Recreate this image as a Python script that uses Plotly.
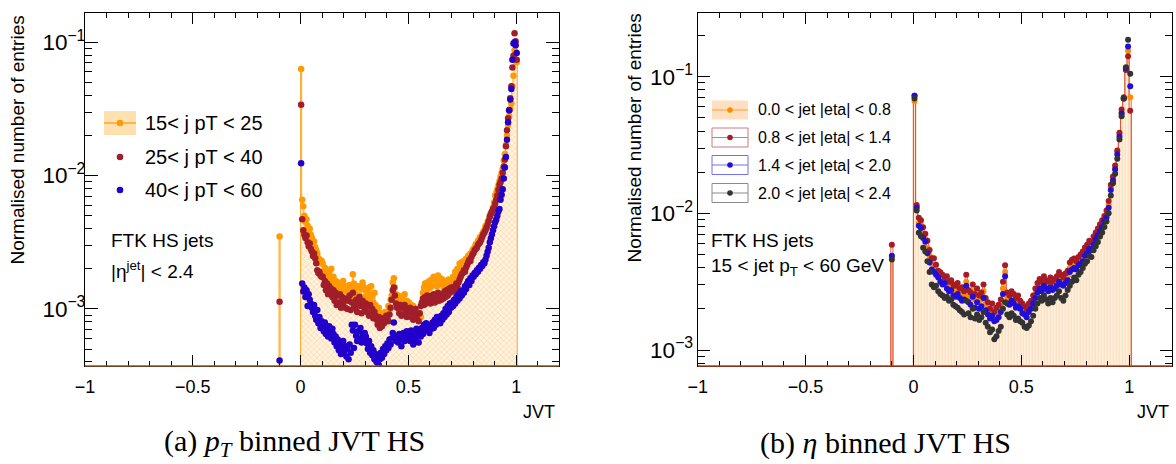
import numpy as np
import plotly.graph_objects as go

W, H = 1176, 464

# ------------------------------------------------------------------ data
# (a) pT binned: JVT bins of width 0.005 from 0 to 1.005, plus the JVT=-0.1 bin
pt_bin_width = 0.005
pt_first_edge = 0.0
pt_neg_center = -0.0975
pt_labels = ["15&lt; j pT &lt; 25", "25&lt; j pT &lt; 40", "40&lt; j pT &lt; 60"]
pt15_25_neg = 3.5e-3
pt25_40_neg = 1.13e-3
pt40_60_neg = 4.1e-4

pt15_25 = [
    6.3e-2, 6.6e-3, 5.9e-3, 5.0e-3, 4.5e-3, 4.7e-3, 4.2e-3, 3.9e-3, 4.0e-3, 3.6e-3,
    3.4e-3, 3.2e-3, 3.2e-3, 2.9e-3, 2.75e-3, 2.6e-3, 2.4e-3, 2.35e-3, 2.2e-3, 2.3e-3,
    2.19e-3, 1.82e-3, 2.04e-3, 1.7e-3, 1.95e-3, 1.58e-3, 1.86e-3, 1.66e-3, 2.0e-3, 1.51e-3,
    1.74e-3, 1.41e-3, 1.62e-3, 1.32e-3, 1.58e-3, 1.45e-3, 1.23e-3, 1.51e-3, 1.35e-3, 1.62e-3,
    1.38e-3, 1.2e-3, 1.48e-3, 1.15e-3, 1.35e-3, 1.51e-3, 1.17e-3, 1.41e-3, 1.82e-3, 1.55e-3,
    1.29e-3, 1.45e-3, 1.17e-3, 1.48e-3, 1.26e-3, 1.12e-3, 1.41e-3, 1.58e-3, 1.45e-3, 1.23e-3,
    1.38e-3, 1.15e-3, 1.29e-3, 1.45e-3, 1.2e-3, 1.48e-3, 1.26e-3, 1.12e-3, 1.32e-3, 1.07e-3,
    1.0e-3, 8.9e-4, 1.02e-3, 8.3e-4, 9.3e-4, 7.9e-4, 9.1e-4, 8.1e-4, 9.5e-4, 8.5e-4,
    9.1e-4, 1.05e-3, 9.8e-4, 1.17e-3, 1.26e-3, 1.58e-3, 1.7e-3, 1.45e-3, 1.29e-3, 1.15e-3,
    1.26e-3, 1.07e-3, 1.23e-3, 1.02e-3, 1.17e-3, 1.1e-3, 1.29e-3, 1.0e-3, 1.15e-3, 1.05e-3,
    1.12e-3, 9.8e-4, 1.07e-3, 9.3e-4, 1.05e-3, 8.9e-4, 1.0e-3, 8.7e-4, 9.5e-4, 8.5e-4,
    9.1e-4, 8.7e-4, 1.1e-3, 1.32e-3, 1.45e-3, 1.55e-3, 1.38e-3, 1.58e-3, 1.41e-3, 1.62e-3,
    1.45e-3, 1.66e-3, 1.51e-3, 1.74e-3, 1.55e-3, 1.7e-3, 1.48e-3, 1.78e-3, 1.58e-3, 1.7e-3,
    1.55e-3, 1.66e-3, 1.48e-3, 1.62e-3, 1.41e-3, 1.58e-3, 1.45e-3, 1.66e-3, 1.51e-3, 1.62e-3,
    1.58e-3, 1.74e-3, 1.66e-3, 1.9e-3, 1.78e-3, 2.0e-3, 1.95e-3, 2.19e-3, 2.09e-3, 2.24e-3,
    2.2e-3, 2.29e-3, 2.24e-3, 2.38e-3, 2.34e-3, 2.51e-3, 2.45e-3, 2.6e-3, 2.57e-3, 2.75e-3,
    2.82e-3, 2.9e-3, 3.05e-3, 3.0e-3, 3.24e-3, 3.3e-3, 3.47e-3, 3.4e-3, 3.63e-3, 3.8e-3,
    3.9e-3, 4.17e-3, 4.1e-3, 4.47e-3, 4.6e-3, 5.0e-3, 5.25e-3, 5.37e-3, 5.8e-3, 6.3e-3,
    7.1e-3, 7.4e-3, 7.9e-3, 8.5e-3, 9.1e-3, 9.8e-3, 1.05e-2, 1.12e-2, 1.29e-2, 1.45e-2,
    1.7e-2, 2.0e-2, 2.4e-2, 2.8e-2, 3.16e-2, 3.47e-2, 4.68e-2, 5.62e-2, 8.7e-2, 8.5e-2,
    7.1e-2,
]
pt25_40 = [
    3.4e-2, 4.7e-3, 3.9e-3, 3.6e-3, 3.4e-3, 3.55e-3, 3.16e-3, 2.95e-3, 3.1e-3, 2.82e-3,
    2.7e-3, 2.5e-3, 2.6e-3, 2.4e-3, 2.2e-3, 1.95e-3, 1.86e-3, 1.9e-3, 1.78e-3, 1.74e-3,
    1.74e-3, 1.51e-3, 1.62e-3, 1.38e-3, 1.55e-3, 1.29e-3, 1.48e-3, 1.35e-3, 1.41e-3, 1.23e-3,
    1.38e-3, 1.15e-3, 1.32e-3, 1.07e-3, 1.26e-3, 1.12e-3, 1.29e-3, 1.02e-3, 1.23e-3, 1.1e-3,
    1.17e-3, 1.02e-3, 1.2e-3, 1.0e-3, 1.15e-3, 1.26e-3, 9.8e-4, 1.12e-3, 1.32e-3, 1.07e-3,
    1.02e-3, 1.17e-3, 9.5e-4, 1.12e-3, 1.23e-3, 1.05e-3, 9.3e-4, 1.15e-3, 1.07e-3, 9.8e-4,
    1.1e-3, 9.5e-4, 1.05e-3, 8.9e-4, 1.07e-3, 9.1e-4, 1.0e-3, 8.5e-4, 9.5e-4, 8.9e-4,
    8.3e-4, 7.6e-4, 8.7e-4, 7.2e-4, 8.1e-4, 7.4e-4, 8.5e-4, 7.8e-4, 8.3e-4, 8.9e-4,
    8.7e-4, 8.1e-4, 9.1e-4, 1.02e-3, 1.17e-3, 1.38e-3, 1.45e-3, 1.26e-3, 1.1e-3, 1.02e-3,
    1.05e-3, 9.3e-4, 1.07e-3, 8.9e-4, 1.02e-3, 9.1e-4, 1.07e-3, 9.5e-4, 8.7e-4, 1.0e-3,
    9.3e-4, 1.02e-3, 8.7e-4, 9.8e-4, 8.3e-4, 9.3e-4, 1.0e-3, 8.5e-4, 9.1e-4, 8.1e-4,
    9.3e-4, 1.05e-3, 1.12e-3, 1.2e-3, 1.07e-3, 1.23e-3, 1.1e-3, 1.26e-3, 1.12e-3, 1.2e-3,
    1.1e-3, 1.26e-3, 1.15e-3, 1.29e-3, 1.12e-3, 1.23e-3, 1.17e-3, 1.32e-3, 1.15e-3, 1.26e-3,
    1.17e-3, 1.29e-3, 1.2e-3, 1.35e-3, 1.23e-3, 1.38e-3, 1.26e-3, 1.41e-3, 1.32e-3, 1.45e-3,
    1.38e-3, 1.45e-3, 1.35e-3, 1.48e-3, 1.55e-3, 1.45e-3, 1.58e-3, 1.66e-3, 1.74e-3, 1.82e-3,
    1.86e-3, 1.95e-3, 1.9e-3, 2.04e-3, 2.14e-3, 2.24e-3, 2.34e-3, 2.29e-3, 2.45e-3, 2.57e-3,
    2.63e-3, 2.75e-3, 2.82e-3, 2.88e-3, 3.02e-3, 3.09e-3, 3.16e-3, 3.31e-3, 3.47e-3, 3.63e-3,
    3.72e-3, 3.89e-3, 4.07e-3, 4.27e-3, 4.57e-3, 4.9e-3, 5.13e-3, 5.37e-3, 5.62e-3, 5.75e-3,
    6.17e-3, 6.6e-3, 7.1e-3, 7.8e-3, 8.5e-3, 8.9e-3, 9.5e-3, 1.05e-2, 1.17e-2, 1.32e-2,
    1.66e-2, 2.19e-2, 2.69e-2, 3.09e-2, 3.8e-2, 4.68e-2, 6.46e-2, 7.94e-2, 0.117, 0.102,
    7.4e-2,
]
pt40_60 = [
    1.24e-2, 1.55e-3, 1.35e-3, 1.45e-3, 1.23e-3, 1.38e-3, 1.05e-3, 1.29e-3, 1.17e-3, 1.1e-3,
    1.02e-3, 9.5e-4, 1.07e-3, 8.9e-4, 8.3e-4, 9.8e-4, 7.8e-4, 8.7e-4, 7.2e-4, 8.1e-4,
    7.6e-4, 6.8e-4, 7.9e-4, 6.5e-4, 7.2e-4, 6.2e-4, 7.4e-4, 6.6e-4, 6.0e-4, 7.1e-4,
    6.5e-4, 5.6e-4, 6.2e-4, 5.25e-4, 5.9e-4, 4.9e-4, 5.5e-4, 4.6e-4, 5.1e-4, 5.75e-4,
    4.8e-4, 5.25e-4, 4.4e-4, 5.0e-4, 4.2e-4, 5.4e-4, 4.7e-4, 7.6e-4, 6.9e-4, 5.1e-4,
    7.6e-4, 6.3e-4, 5.75e-4, 6.8e-4, 6.0e-4, 7.2e-4, 5.6e-4, 6.5e-4, 5.9e-4, 6.6e-4,
    6.2e-4, 5.5e-4, 5.0e-4, 5.75e-4, 4.7e-4, 5.25e-4, 4.5e-4, 4.9e-4, 4.2e-4, 4.6e-4,
    4.0e-4, 4.4e-4, 3.8e-4, 4.2e-4, 4.7e-4, 4.3e-4, 5.0e-4, 4.6e-4, 5.25e-4, 4.9e-4,
    5.5e-4, 5.1e-4, 5.9e-4, 5.4e-4, 6.0e-4, 6.6e-4, 7.9e-4, 6.3e-4, 5.75e-4, 6.2e-4,
    5.6e-4, 6.5e-4, 5.9e-4, 5.25e-4, 6.2e-4, 6.6e-4, 5.75e-4, 6.3e-4, 6.8e-4, 6.0e-4,
    6.5e-4, 5.75e-4, 6.9e-4, 6.2e-4, 5.4e-4, 6.6e-4, 5.9e-4, 7.1e-4, 6.3e-4, 5.6e-4,
    6.8e-4, 6.2e-4, 7.2e-4, 6.5e-4, 7.6e-4, 6.9e-4, 7.8e-4, 7.1e-4, 7.4e-4, 6.6e-4,
    7.6e-4, 7.1e-4, 7.9e-4, 7.2e-4, 8.3e-4, 7.6e-4, 8.7e-4, 7.9e-4, 8.5e-4, 7.8e-4,
    8.9e-4, 8.3e-4, 9.3e-4, 8.7e-4, 1.0e-3, 9.1e-4, 1.05e-3, 9.5e-4, 1.1e-3, 1.02e-3,
    1.12e-3, 1.05e-3, 1.17e-3, 1.1e-3, 1.23e-3, 1.15e-3, 1.29e-3, 1.2e-3, 1.35e-3, 1.26e-3,
    1.38e-3, 1.32e-3, 1.48e-3, 1.41e-3, 1.55e-3, 1.62e-3, 1.51e-3, 1.7e-3, 1.62e-3, 1.78e-3,
    1.74e-3, 1.86e-3, 1.82e-3, 1.95e-3, 1.9e-3, 2.04e-3, 2.0e-3, 2.14e-3, 2.1e-3, 2.24e-3,
    2.2e-3, 2.34e-3, 2.51e-3, 2.69e-3, 2.88e-3, 3.16e-3, 3.39e-3, 3.63e-3, 3.89e-3, 4.17e-3,
    4.47e-3, 4.68e-3, 5.0e-3, 5.37e-3, 5.62e-3, 6.6e-3, 7.2e-3, 7.9e-3, 9.5e-3, 1.15e-2,
    1.38e-2, 1.86e-2, 2.51e-2, 3.09e-2, 3.72e-2, 4.47e-2, 7.4e-2, 9.8e-2, 0.10, 0.095,
    8.3e-2,
]

# (b) eta binned: JVT bins of width 0.01 from 0 to 1.01, plus the JVT=-0.1 bin
eta_bin_width = 0.01
eta_first_edge = 0.0
eta_neg_center = -0.1
eta_labels = ["0.0 &lt; jet |eta| &lt; 0.8", "0.8 &lt; jet |eta| &lt; 1.4",
              "1.4 &lt; jet |eta| &lt; 2.0", "2.0 &lt; jet |eta| &lt; 2.4"]
eta00_08_neg = 4.8e-3
eta08_14_neg = 5.9e-3
eta14_20_neg = 4.9e-3
eta20_24_neg = 4.6e-3

eta00_08 = [
    0.066, 0.0112, 8.5e-3, 8.3e-3, 7.1e-3, 6.5e-3, 5.6e-3, 4.9e-3, 4.27e-3, 4.17e-3,
    3.8e-3, 3.55e-3, 3.39e-3, 3.24e-3, 3.16e-3, 3.09e-3, 2.95e-3, 2.88e-3, 2.75e-3, 2.63e-3,
    2.75e-3, 2.57e-3, 2.63e-3, 2.45e-3, 3.16e-3, 2.51e-3, 2.4e-3, 2.69e-3, 2.34e-3, 2.51e-3,
    2.29e-3, 2.34e-3, 2.69e-3, 2.19e-3, 2.04e-3, 1.82e-3, 1.95e-3, 1.74e-3, 1.82e-3, 1.9e-3,
    2.09e-3, 2.82e-3, 3.72e-3, 2.4e-3, 2.29e-3, 2.45e-3, 2.34e-3, 2.19e-3, 2.24e-3, 2.09e-3,
    2.0e-3, 1.9e-3, 1.86e-3, 2.0e-3, 2.09e-3, 2.29e-3, 2.57e-3, 2.82e-3, 3.02e-3, 2.88e-3,
    3.16e-3, 2.95e-3, 2.88e-3, 3.09e-3, 2.88e-3, 3.02e-3, 3.16e-3, 3.39e-3, 3.24e-3, 3.09e-3,
    3.31e-3, 3.47e-3, 3.98e-3, 4.17e-3, 4.27e-3, 4.07e-3, 4.37e-3, 4.57e-3, 4.79e-3, 5.13e-3,
    5.37e-3, 5.75e-3, 5.75e-3, 6.17e-3, 6.76e-3, 7.24e-3, 7.76e-3, 8.32e-3, 8.91e-3, 9.77e-3,
    1.15e-2, 1.55e-2, 1.82e-2, 2.14e-2, 2.82e-2, 3.8e-2, 5.5e-2, 6.92e-2, 0.112, 0.155,
    7.08e-2,
]
eta08_14 = [
    0.0724, 0.0115, 9.3e-3, 8.9e-3, 7.9e-3, 7.1e-3, 6.3e-3, 5.4e-3, 4.7e-3, 4.7e-3,
    4.2e-3, 3.8e-3, 3.7e-3, 3.55e-3, 3.4e-3, 3.47e-3, 3.16e-3, 3.24e-3, 3.02e-3, 2.95e-3,
    3.09e-3, 2.82e-3, 2.88e-3, 2.69e-3, 3.55e-3, 2.75e-3, 2.63e-3, 3.02e-3, 2.57e-3, 2.82e-3,
    2.51e-3, 2.63e-3, 3.02e-3, 2.4e-3, 2.24e-3, 2.0e-3, 2.19e-3, 1.9e-3, 2.04e-3, 2.14e-3,
    2.34e-3, 3.16e-3, 4.17e-3, 2.63e-3, 2.51e-3, 2.69e-3, 2.57e-3, 2.4e-3, 2.51e-3, 2.29e-3,
    2.19e-3, 2.09e-3, 2.0e-3, 2.19e-3, 2.29e-3, 2.51e-3, 2.82e-3, 3.09e-3, 3.31e-3, 3.16e-3,
    3.47e-3, 3.24e-3, 3.16e-3, 3.39e-3, 3.16e-3, 3.31e-3, 3.47e-3, 3.72e-3, 3.55e-3, 3.39e-3,
    3.63e-3, 3.8e-3, 4.37e-3, 4.57e-3, 4.68e-3, 4.47e-3, 4.79e-3, 5.0e-3, 5.25e-3, 5.62e-3,
    5.89e-3, 6.31e-3, 6.17e-3, 6.76e-3, 7.24e-3, 7.76e-3, 8.32e-3, 8.91e-3, 9.55e-3, 1.05e-2,
    1.23e-2, 1.62e-2, 1.86e-2, 2.24e-2, 2.88e-2, 3.89e-2, 5.75e-2, 7.08e-2, 0.112, 0.141,
    5.62e-2,
]
eta14_20 = [
    0.0724, 0.011, 8.1e-3, 7.8e-3, 6.6e-3, 6.2e-3, 5.1e-3, 4.37e-3, 3.89e-3, 3.72e-3,
    3.55e-3, 3.39e-3, 3.16e-3, 3.02e-3, 3.09e-3, 2.82e-3, 2.69e-3, 2.75e-3, 2.51e-3, 2.45e-3,
    2.57e-3, 2.4e-3, 2.29e-3, 2.34e-3, 2.95e-3, 2.24e-3, 2.14e-3, 2.45e-3, 2.04e-3, 2.24e-3,
    2.0e-3, 2.09e-3, 2.4e-3, 1.95e-3, 1.82e-3, 1.7e-3, 1.78e-3, 1.62e-3, 1.66e-3, 1.74e-3,
    1.9e-3, 2.57e-3, 3.47e-3, 2.19e-3, 2.14e-3, 2.29e-3, 2.19e-3, 2.04e-3, 2.09e-3, 2.0e-3,
    1.86e-3, 1.82e-3, 1.74e-3, 1.9e-3, 2.0e-3, 2.19e-3, 2.4e-3, 2.63e-3, 2.82e-3, 2.69e-3,
    2.95e-3, 2.82e-3, 2.69e-3, 2.88e-3, 2.75e-3, 2.82e-3, 2.95e-3, 3.16e-3, 3.02e-3, 2.95e-3,
    3.09e-3, 3.24e-3, 3.72e-3, 3.89e-3, 3.98e-3, 3.89e-3, 4.17e-3, 4.27e-3, 4.47e-3, 4.9e-3,
    5.13e-3, 5.5e-3, 5.37e-3, 5.89e-3, 6.46e-3, 6.92e-3, 7.41e-3, 7.94e-3, 8.71e-3, 9.33e-3,
    1.1e-2, 1.48e-2, 1.74e-2, 2.09e-2, 2.69e-2, 3.63e-2, 5.37e-2, 6.92e-2, 0.115, 0.166,
    8.5e-2,
]
eta20_24 = [
    0.0692, 0.0105, 7.2e-3, 6.8e-3, 5.6e-3, 5.25e-3, 4.47e-3, 3.72e-3, 3.02e-3, 2.88e-3,
    2.95e-3, 2.69e-3, 2.57e-3, 2.51e-3, 2.4e-3, 2.45e-3, 2.29e-3, 2.34e-3, 2.14e-3, 2.09e-3,
    2.04e-3, 1.95e-3, 1.9e-3, 1.82e-3, 2.29e-3, 1.86e-3, 1.74e-3, 2.0e-3, 1.7e-3, 1.82e-3,
    1.66e-3, 1.74e-3, 1.9e-3, 1.58e-3, 1.48e-3, 1.35e-3, 1.41e-3, 1.2e-3, 1.26e-3, 1.38e-3,
    1.48e-3, 2.0e-3, 2.24e-3, 1.82e-3, 1.74e-3, 1.86e-3, 1.78e-3, 1.66e-3, 1.7e-3, 1.62e-3,
    1.58e-3, 1.48e-3, 1.45e-3, 1.51e-3, 1.62e-3, 1.78e-3, 2.0e-3, 2.19e-3, 2.4e-3, 2.29e-3,
    2.51e-3, 2.34e-3, 2.19e-3, 2.4e-3, 2.24e-3, 2.4e-3, 2.51e-3, 2.69e-3, 2.4e-3, 2.29e-3,
    2.51e-3, 2.75e-3, 2.95e-3, 3.16e-3, 3.39e-3, 3.24e-3, 3.55e-3, 3.72e-3, 3.98e-3, 4.27e-3,
    4.47e-3, 4.9e-3, 4.79e-3, 5.37e-3, 5.75e-3, 6.17e-3, 6.76e-3, 7.24e-3, 7.94e-3, 8.71e-3,
    1.0e-2, 1.35e-2, 1.66e-2, 1.95e-2, 2.51e-2, 3.47e-2, 5.13e-2, 6.92e-2, 0.117, 0.186,
    0.105,
]

for name, arr, n in [("pt15_25", pt15_25, 201), ("pt25_40", pt25_40, 201), ("pt40_60", pt40_60, 201),
                     ("eta00_08", eta00_08, 101), ("eta08_14", eta08_14, 101),
                     ("eta14_20", eta14_20, 101), ("eta20_24", eta20_24, 101)]:
    if len(arr) != n:
        raise ValueError(f"{name} has {len(arr)} values, expected {n}")

# ------------------------------------------------------------------ helpers
FONT = "Liberation Sans"
FLOOR = 1e-6  # below the visible log range: the histogram's empty level


def centers(vals, first_edge, width):
    return first_edge + width * (np.arange(len(vals)) + 0.5)


def step_xy(cs, vals, width):
    xs, ys = [cs[0] - width / 2], [FLOOR]
    for c, v in zip(cs, vals):
        xs += [c - width / 2, c + width / 2]
        ys += [v, v]
    xs.append(cs[-1] + width / 2)
    ys.append(FLOOR)
    return xs, ys


def joined_steps(parts):
    X, Y = [], []
    for cs, vals, width in parts:
        xs, ys = step_xy(cs, vals, width)
        if X:
            X.append(None)
            Y.append(None)
        X += xs
        Y += ys
    return X, Y


def PX(x):
    return x / W


def PY(y):
    return 1 - y / H


fig = go.Figure()

# ------------------------------------------------------------------ panel (a)
c_pt = centers(pt15_25, pt_first_edge, pt_bin_width)
col_a = ["#ff9a00", "#a01e2a", "#2200cc"]

hx, hy = joined_steps([([pt_neg_center], [pt15_25_neg], pt_bin_width),
                       (c_pt, pt15_25, pt_bin_width)])
fig.add_trace(go.Scatter(
    x=hx, y=hy, mode="lines", fill="toself",
    line=dict(color="#ffa424", width=1),
    fillcolor="rgba(0,0,0,0)",
    fillpattern=dict(shape="x", fgcolor="#ffc06a", bgcolor="#fff3e2", size=4, solidity=0.35),
    hoverinfo="skip", showlegend=False, xaxis="x", yaxis="y"))

for vals, neg, col in [(pt15_25, pt15_25_neg, col_a[0]),
                       (pt25_40, pt25_40_neg, col_a[1]),
                       (pt40_60, pt40_60_neg, col_a[2])]:
    fig.add_trace(go.Scatter(
        x=[pt_neg_center] + list(c_pt), y=[neg] + list(vals), mode="markers",
        marker=dict(color=col, size=6.5, line=dict(width=0)),
        showlegend=False, xaxis="x", yaxis="y"))

# ------------------------------------------------------------------ panel (b)
c_eta = centers(eta00_08, eta_first_edge, eta_bin_width)
col_b = ["#ff8c00", "#a51c24", "#1f0fd8", "#333333"]

hx, hy = joined_steps([([eta_neg_center], [eta00_08_neg], eta_bin_width),
                       (c_eta, eta00_08, eta_bin_width)])
fig.add_trace(go.Scatter(
    x=hx, y=hy, mode="lines", fill="toself",
    line=dict(color="#f29048", width=1.2),
    fillcolor="rgba(0,0,0,0)",
    fillpattern=dict(shape="|", fgcolor="#fcc896", bgcolor="#ffefdd", size=3, solidity=0.35),
    hoverinfo="skip", showlegend=False, xaxis="x2", yaxis="y2"))

rx, ry = joined_steps([([eta_neg_center], [eta08_14_neg], eta_bin_width),
                       (c_eta, eta08_14, eta_bin_width)])
fig.add_trace(go.Scatter(
    x=rx, y=ry, mode="lines", line=dict(color="#cf4a3a", width=1),
    opacity=0.8, hoverinfo="skip", showlegend=False, xaxis="x2", yaxis="y2"))

for vals, neg, col in [(eta00_08, eta00_08_neg, col_b[0]),
                       (eta08_14, eta08_14_neg, col_b[1]),
                       (eta14_20, eta14_20_neg, col_b[2]),
                       (eta20_24, eta20_24_neg, col_b[3])]:
    fig.add_trace(go.Scatter(
        x=[eta_neg_center] + list(c_eta), y=[neg] + list(vals), mode="markers",
        marker=dict(color=col, size=6, line=dict(width=0)),
        showlegend=False, xaxis="x2", yaxis="y2"))

# ------------------------------------------------------------------ axes
ydom = [PY(366), PY(12.7)]


def xax(dom, anchor):
    return dict(domain=dom, anchor=anchor, range=[-1, 1.2], tick0=0, dtick=0.5,
                ticks="inside", ticklen=11, tickwidth=1, tickcolor="black",
                minor=dict(ticks="inside", ticklen=5, dtick=0.1, tick0=0, tickcolor="black"),
                showline=True, linecolor="black", linewidth=1, mirror="allticks",
                showgrid=False, zeroline=False, automargin=False,
                tickfont=dict(family=FONT, size=18, color="black"), ticklabelstandoff=4)


def yax(rng, anchor, standoff, majlen):
    return dict(domain=ydom, anchor=anchor, type="log", range=rng, dtick=1,
                exponentformat="power",
                ticks="inside", ticklen=majlen, tickwidth=1, tickcolor="black",
                minor=dict(ticks="inside", ticklen=7, dtick="D1", tickcolor="black"),
                showline=True, linecolor="black", linewidth=1, mirror="allticks",
                showgrid=False, zeroline=False, automargin=False,
                tickfont=dict(family=FONT, size=18, color="black"),
                ticklabelstandoff=standoff)


fig.update_layout(
    width=W, height=H, autosize=False,
    margin=dict(l=0, r=0, t=0, b=0, pad=0),
    paper_bgcolor="white", plot_bgcolor="white",
    showlegend=False,
    xaxis=xax([PX(85), PX(559.3)], "y"),
    yaxis=yax([-3.428, -0.778], "x", -5, 13),
    xaxis2=xax([PX(697.7), PX(1172.3)], "y2"),
    yaxis2=yax([-3.117, -0.532], "x2", 0, 12),
)

# ------------------------------------------------------------------ shapes (legends, base lines)
shapes = []
shapes.append(dict(type="line", xref="paper", yref="paper", x0=PX(85), x1=PX(559.3),
                   y0=PY(366), y1=PY(366), line=dict(color="#8a5a2a", width=1.5)))
shapes.append(dict(type="line", xref="paper", yref="paper", x0=PX(697.7), x1=PX(1172.3),
                   y0=PY(366), y1=PY(366), line=dict(color="#b0452a", width=1.5)))


def dot(cx, cy, r, col):
    return dict(type="circle", xref="paper", yref="paper",
                x0=PX(cx - r), x1=PX(cx + r), y0=PY(cy + r), y1=PY(cy - r),
                fillcolor=col, line=dict(width=0))


# legend (a)
shapes.append(dict(type="rect", xref="paper", yref="paper", x0=PX(104), x1=PX(136),
                   y0=PY(135), y1=PY(111), fillcolor="#ffe1b0", line=dict(width=0)))
shapes.append(dict(type="line", xref="paper", yref="paper", x0=PX(104), x1=PX(136),
                   y0=PY(123), y1=PY(123), line=dict(color="#ffa424", width=1.5)))
leg_a_y = [123, 157, 190]
for yy, col in zip(leg_a_y, col_a):
    shapes.append(dot(120, yy, 3.3, col))

# legend (b)
leg_b_y = [110, 137.5, 165, 193]
box_cols = [None, "#d07a7a", "#7070f0", "#8a8a8a"]
for i, (yy, col) in enumerate(zip(leg_b_y, col_b)):
    if i == 0:
        shapes.append(dict(type="rect", xref="paper", yref="paper", x0=PX(712), x1=PX(748),
                           y0=PY(yy + 9.5), y1=PY(yy - 9.5), fillcolor="#fde0c0",
                           line=dict(width=0)))
        lc = "#ff9a30"
    else:
        shapes.append(dict(type="rect", xref="paper", yref="paper", x0=PX(712), x1=PX(748),
                           y0=PY(yy + 9.5), y1=PY(yy - 9.5), fillcolor="rgba(0,0,0,0)",
                           line=dict(color=box_cols[i], width=1)))
        lc = box_cols[i]
    shapes.append(dict(type="line", xref="paper", yref="paper", x0=PX(712), x1=PX(748),
                       y0=PY(yy), y1=PY(yy), line=dict(color=lc, width=1)))
    shapes.append(dot(730, yy, 2.8, col))

fig.update_layout(shapes=shapes)

# ------------------------------------------------------------------ annotations
ann = []


def text(s, x, y, size, xanchor="left", yanchor="middle", family=FONT, angle=0):
    ann.append(dict(text=s, x=PX(x), y=PY(y), xref="paper", yref="paper",
                    xanchor=xanchor, yanchor=yanchor, showarrow=False, textangle=angle,
                    font=dict(family=family, size=size, color="black")))


for yy, lab in zip(leg_a_y, pt_labels):
    text(lab, 143, yy, 20)
for yy, lab in zip(leg_b_y, eta_labels):
    text(lab, 756, yy, 16)

text("FTK HS jets", 109, 240, 19)
text("|η<sup>jet</sup>| &lt; 2.4", 109, 270, 19)
text("FTK HS jets", 709, 240, 19)
text("15 &lt; jet p<sub>T</sub> &lt; 60 GeV", 709, 267, 19)

text("Normalised number of entries", 17, 14, 19, xanchor="center", yanchor="top", angle=-90)
text("Normalised number of entries", 634, 12, 19, xanchor="center", yanchor="top", angle=-90)
text("JVT", 557, 412, 18, xanchor="right")
text("JVT", 1171, 412, 18, xanchor="right")

text("(a) <i>p</i><sub><i>T</i></sub> binned JVT HS", 294, 443, 30,
     xanchor="center", family="Liberation Serif")
text("(b) <i>η</i> binned JVT HS", 885, 443, 30,
     xanchor="center", family="Liberation Serif")

fig.update_layout(annotations=ann)

fig.write_html("out.html", config={"displayModeBar": False, "staticPlot": True},
               post_script="document.body.style.margin='0';document.body.style.overflow='hidden';")
